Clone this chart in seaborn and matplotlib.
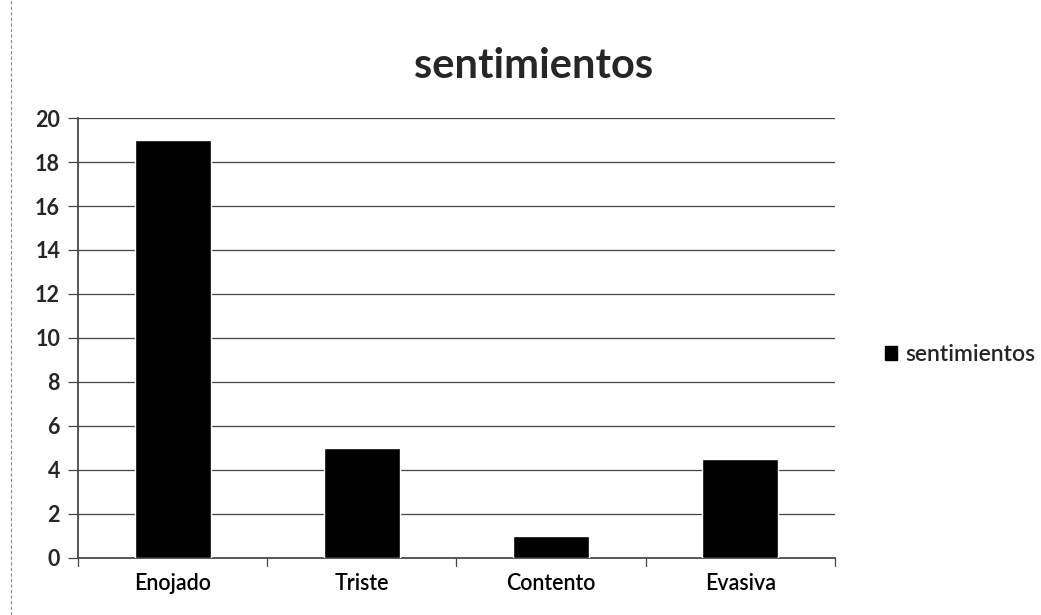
import matplotlib.pyplot as plt
import seaborn as sns
from matplotlib.patches import Patch
from matplotlib.lines import Line2D

categorias = ["Enojado", "Triste", "Contento", "Evasiva"]
valores = [19, 5, 1, 4.5]
serie = "sentimientos"
yticks = list(range(0, 21, 2))

sns.set_theme(style="white")
plt.rcParams["font.family"] = ["Lato", "DejaVu Sans"]

fig = plt.figure(figsize=(10.41, 6.15), dpi=100)
ax = fig.add_axes([0.075, 0.093, 0.727, 0.715])

sns.barplot(x=categorias, y=valores, color="black", width=0.4, ax=ax,
            saturation=1, zorder=3)

ax.set_ylim(0, 20)
ax.set_xlim(-0.5, 3.5)
ax.set_yticks(yticks)
ax.yaxis.grid(True, color="#444444", linewidth=0.9, zorder=0)
ax.set_xticks(range(4))
ax.set_xticklabels(categorias, fontsize=15.5, fontweight="semibold")
ax.set_yticklabels([str(t) for t in yticks], fontsize=15.5, fontweight="bold")
ax.tick_params(axis="x", length=0, pad=11, colors="black")
ax.tick_params(axis="y", length=7, width=0.9, color="#444444", left=True, pad=6)

# category boundary ticks on the x axis
for b in [-0.5, 0.5, 1.5, 2.5, 3.5]:
    ax.plot([b, b], [0, -0.35], color="#444444", linewidth=0.9,
            clip_on=False, zorder=4)

for side in ["top", "right"]:
    ax.spines[side].set_visible(False)
ax.spines["left"].set_color("#444444")
ax.spines["bottom"].set_color("#444444")
ax.set_xlabel("")
ax.set_ylabel("")

fig.text(0.513, 0.893, "sentimientos", ha="center", va="center",
         fontsize=30, fontweight="bold")

handle = Patch(facecolor="black", edgecolor="black")
fig.legend([handle], [serie], loc="center left", bbox_to_anchor=(0.83, 0.424),
           frameon=False, fontsize=16.5, handlelength=0.55, handleheight=0.55,
           handletextpad=0.35, prop={"weight": "semibold", "size": 16.5})

fig.add_artist(Line2D([0.011, 0.011], [0.0, 1.0], transform=fig.transFigure,
                      color="#888888", linewidth=0.8, linestyle=(0, (3, 2))))

plt.savefig("out.png", dpi=100)
